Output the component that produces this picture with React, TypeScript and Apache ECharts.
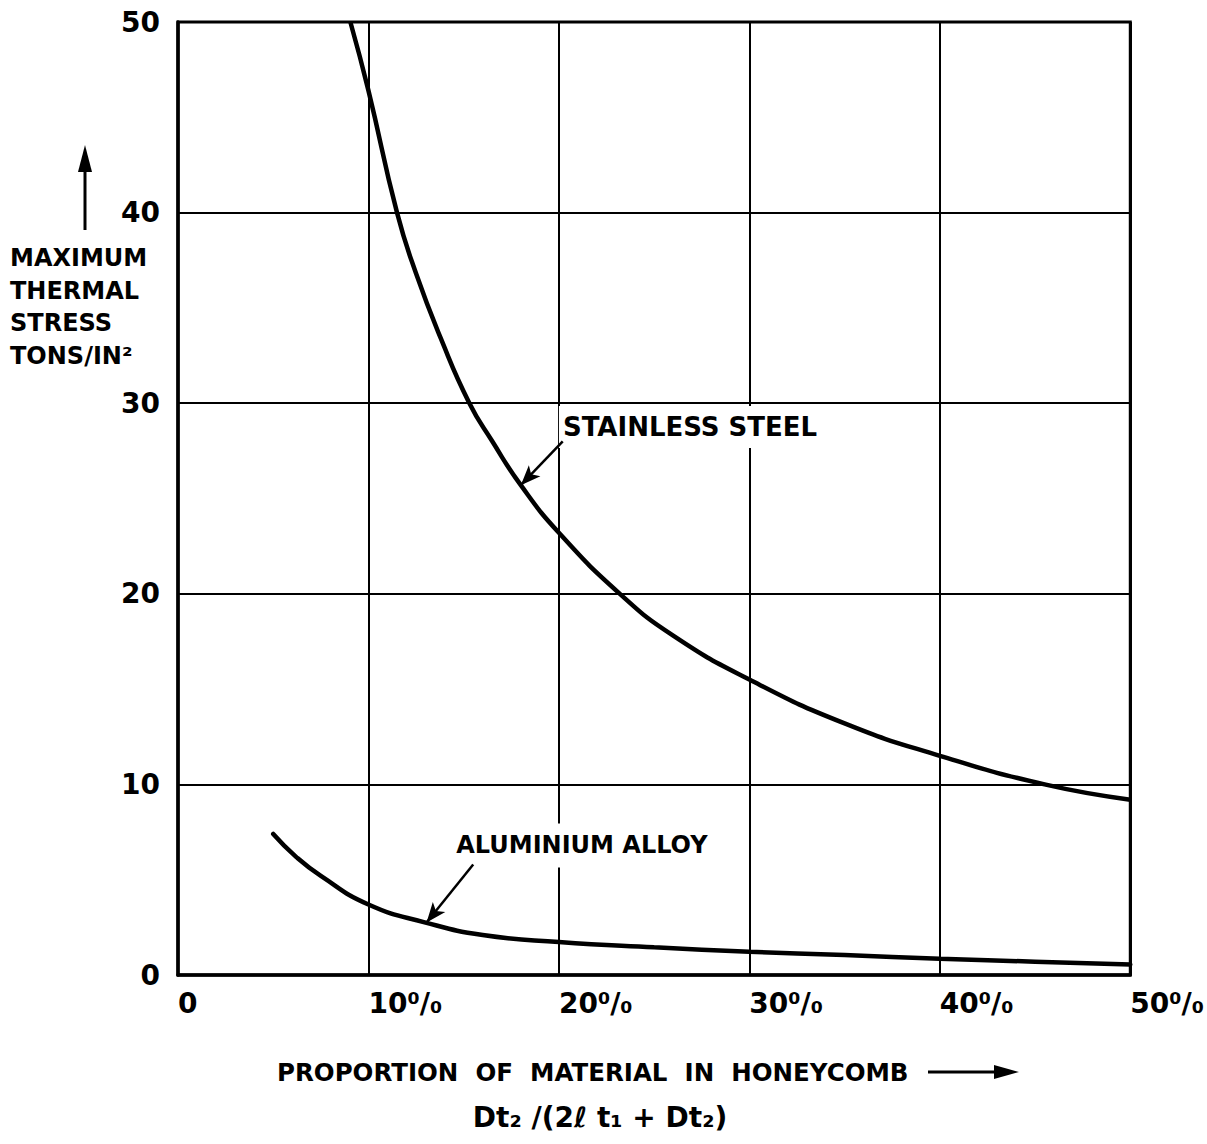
import React, { useEffect, useRef } from "react";
import * as echarts from "echarts";

// ---- data ----
const xTickLabels = ["0", "10⁰/₀", "20⁰/₀", "30⁰/₀", "40⁰/₀", "50⁰/₀"];
const yTickLabels = ["0", "10", "20", "30", "40", "50"];

const stainlessX = [9.05, 10, 11.5, 12.5, 13.8, 15.3, 16.5, 18, 20, 23.2, 26, 30, 35, 40, 45.5, 50];
const stainlessY = [50, 46.4, 40, 36.8, 33.4, 30, 28, 25.7, 23.2, 20, 17.8, 15.5, 13.2, 11.5, 10, 9.2];

const aluminiumX = [5, 6.2, 7.5, 10, 13, 16, 20, 25, 30, 35, 40, 45, 50];
const aluminiumY = [7.4, 6.2, 5.2, 3.7, 2.75, 2.1, 1.73, 1.45, 1.22, 1.05, 0.85, 0.7, 0.55];

// annotation anchors (data coordinates)
const stainlessArrow = [[20.2, 28.0], [18.0, 25.7]];
const aluminiumArrow = [[15.5, 5.8], [13.05, 2.75]];
const stainlessLabelAt = [20.0, 28.75];
const aluminiumLabelAt = [14.4, 6.8];

const FONT = '"DejaVu Sans", "Liberation Sans", sans-serif';

export default function App() {
  const ref = useRef<HTMLDivElement>(null);

  useEffect(() => {
    document.body.style.margin = "0";
    const chart = echarts.init(ref.current!, undefined, { renderer: "svg" });

    const arrowLine = (pts: number[][]) => ({
      silent: true,
      symbol: ["none", "arrow"],
      symbolSize: [12, 20],
      label: { show: false },
      lineStyle: { color: "#000", width: 2.5, type: "solid" },
      data: [[{ coord: pts[0] }, { coord: pts[1] }]],
    });

    chart.setOption({
      animation: false,
      backgroundColor: "#fff",
      grid: {
        left: 178,
        right: 75,
        top: 22,
        bottom: 169,
        show: true,
        borderColor: "#000",
        borderWidth: 3,
      },
      xAxis: {
        type: "value",
        min: 0,
        max: 50,
        interval: 10,
        axisLine: { show: true, lineStyle: { color: "#000", width: 3.5 } },
        axisTick: { show: false },
        splitLine: { show: true, lineStyle: { color: "#000", width: 2 } },
        axisLabel: {
          color: "#000",
          fontSize: 28,
          fontWeight: "bold",
          fontFamily: FONT,
          margin: 14,
          align: "left",
          formatter: (v: number) => xTickLabels[Math.round(v / 10)],
        },
      },
      yAxis: {
        type: "value",
        min: 0,
        max: 50,
        interval: 10,
        axisLine: { show: true, lineStyle: { color: "#000", width: 3.5 } },
        axisTick: { show: false },
        splitLine: { show: true, lineStyle: { color: "#000", width: 2 } },
        axisLabel: {
          color: "#000",
          fontSize: 28,
          fontWeight: "bold",
          fontFamily: FONT,
          margin: 18,
          formatter: (v: number) => yTickLabels[Math.round(v / 10)],
        },
      },
      series: [
        {
          name: "STAINLESS STEEL",
          type: "line",
          smooth: 0.5,
          showSymbol: false,
          lineStyle: { color: "#000", width: 4.5 },
          data: stainlessX.map((x, i) => [x, stainlessY[i]]),
          markLine: arrowLine(stainlessArrow),
        },
        {
          name: "ALUMINIUM ALLOY",
          type: "line",
          smooth: 0.5,
          showSymbol: false,
          lineStyle: { color: "#000", width: 4.5, cap: "round" },
          data: aluminiumX.map((x, i) => [x, aluminiumY[i]]),
          markLine: arrowLine(aluminiumArrow),
        },
      ],
    });

    const sp = chart.convertToPixel({ gridIndex: 0 }, stainlessLabelAt) as number[];
    const ap = chart.convertToPixel({ gridIndex: 0 }, aluminiumLabelAt) as number[];

    chart.setOption({
      graphic: [
        {
          type: "text",
          z: 1,
          x: sp[0],
          y: sp[1],
          style: {
            text: "STAINLESS STEEL",
            fill: "#000",
            font: `bold 26px ${FONT}`,
            align: "left",
            verticalAlign: "middle",
            backgroundColor: "#fff",
            padding: [8, 4],
          },
        },
        {
          type: "text",
          z: 1,
          x: ap[0],
          y: ap[1],
          style: {
            text: "ALUMINIUM ALLOY",
            fill: "#000",
            font: `bold 24px ${FONT}`,
            align: "left",
            verticalAlign: "middle",
            backgroundColor: "#fff",
            padding: [10, 4],
          },
        },
        {
          type: "text",
          x: 10,
          y: 242,
          style: {
            text: "MAXIMUM\nTHERMAL\nSTRESS\nTONS/IN²",
            fill: "#000",
            font: `bold 24px ${FONT}`,
            lineHeight: 32.5,
            align: "left",
            verticalAlign: "top",
          },
        },
        {
          type: "line",
          shape: { x1: 85, y1: 230, x2: 85, y2: 165 },
          style: { stroke: "#000", lineWidth: 3 },
        },
        {
          type: "polygon",
          shape: { points: [[78, 172], [92, 172], [85, 145]] },
          style: { fill: "#000" },
        },
        {
          type: "text",
          x: 277,
          y: 1072,
          style: {
            text: "PROPORTION  OF  MATERIAL  IN  HONEYCOMB",
            fill: "#000",
            font: `bold 24.5px ${FONT}`,
            align: "left",
            verticalAlign: "middle",
          },
        },
        {
          type: "line",
          shape: { x1: 928, y1: 1072, x2: 1000, y2: 1072 },
          style: { stroke: "#000", lineWidth: 3 },
        },
        {
          type: "polygon",
          shape: { points: [[994, 1065], [994, 1079], [1019, 1072]] },
          style: { fill: "#000" },
        },
        {
          type: "text",
          x: 600,
          y: 1117,
          style: {
            text: "Dt₂ /(2ℓ t₁ + Dt₂)",
            fill: "#000",
            font: `bold 28px ${FONT}`,
            align: "center",
            verticalAlign: "middle",
          },
        },
      ],
    });

    return () => chart.dispose();
  }, []);

  return <div ref={ref} style={{ width: 1207, height: 1144 }} />;
}
